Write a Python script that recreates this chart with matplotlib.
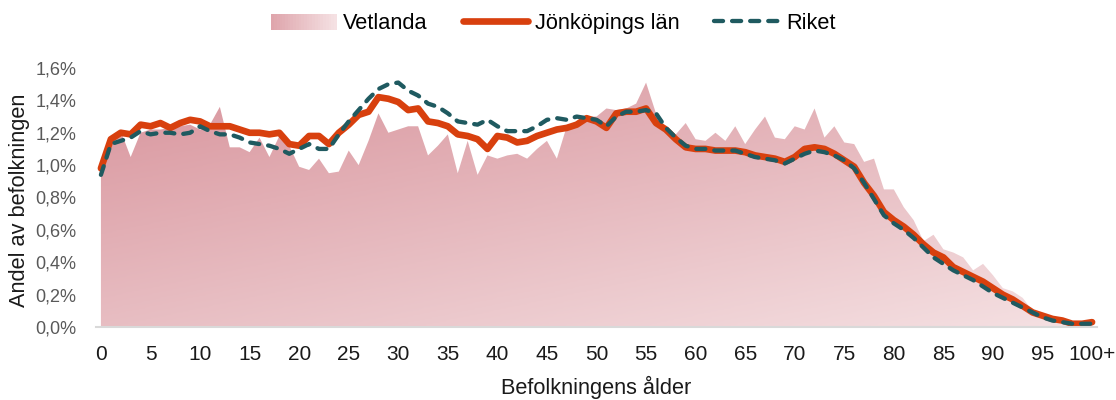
import numpy as np
import matplotlib
matplotlib.use("Agg")
import matplotlib.pyplot as plt
from matplotlib.colors import LinearSegmentedColormap
from matplotlib.legend_handler import HandlerBase
from matplotlib.patches import Rectangle, Patch
from matplotlib.lines import Line2D
from matplotlib.ticker import FuncFormatter

plt.rcParams["font.family"] = ["Liberation Sans", "DejaVu Sans"]

# andel av befolkningen (%) per ettårsklass, 0..100+
ages = np.arange(0, 101)
vetlanda = [
    0.97, 1.12, 1.21, 1.05, 1.20, 1.22, 1.22, 1.23, 1.24, 1.25,
    1.22, 1.25, 1.36, 1.11, 1.11, 1.08, 1.17, 1.05, 1.18, 1.12,
    0.99, 0.97, 1.04, 0.95, 0.96, 1.09, 1.00, 1.15, 1.32, 1.20,
    1.22, 1.24, 1.24, 1.06, 1.12, 1.19, 0.95, 1.15, 0.94, 1.06,
    1.04, 1.06, 1.07, 1.04, 1.10, 1.15, 1.04, 1.24, 1.27, 1.30,
    1.30, 1.35, 1.34, 1.35, 1.38, 1.51, 1.32, 1.21, 1.19, 1.26,
    1.16, 1.15, 1.20, 1.15, 1.24, 1.13, 1.22, 1.30, 1.17, 1.16,
    1.24, 1.22, 1.35, 1.17, 1.24, 1.14, 1.13, 1.02, 1.04, 0.85,
    0.85, 0.74, 0.66, 0.53, 0.57, 0.48, 0.46, 0.43, 0.35, 0.39,
    0.32, 0.24, 0.22, 0.18, 0.10, 0.07, 0.05, 0.03, 0.02, 0.02,
    0.02,
]
jonkoping = [
    0.98, 1.16, 1.20, 1.19, 1.25, 1.24, 1.26, 1.23, 1.26, 1.28,
    1.27, 1.24, 1.24, 1.24, 1.22, 1.20, 1.20, 1.19, 1.20, 1.13,
    1.12, 1.18, 1.18, 1.13, 1.20, 1.25, 1.31, 1.33, 1.42, 1.41,
    1.39, 1.34, 1.35, 1.27, 1.26, 1.24, 1.19, 1.18, 1.16, 1.10,
    1.18, 1.17, 1.14, 1.15, 1.18, 1.20, 1.22, 1.23, 1.25, 1.29,
    1.27, 1.23, 1.32, 1.33, 1.33, 1.35, 1.26, 1.22, 1.16, 1.11,
    1.10, 1.10, 1.09, 1.09, 1.09, 1.08, 1.06, 1.05, 1.04, 1.02,
    1.05, 1.10, 1.11, 1.10, 1.07, 1.03, 0.99, 0.89, 0.81, 0.71,
    0.66, 0.62, 0.57, 0.51, 0.46, 0.43, 0.37, 0.34, 0.31, 0.28,
    0.24, 0.20, 0.17, 0.13, 0.09, 0.07, 0.05, 0.04, 0.02, 0.02,
    0.03,
]
riket = [
    0.94, 1.13, 1.15, 1.17, 1.21, 1.19, 1.20, 1.20, 1.19, 1.20,
    1.24, 1.21, 1.19, 1.19, 1.17, 1.14, 1.13, 1.12, 1.10, 1.07,
    1.10, 1.13, 1.10, 1.10, 1.19, 1.27, 1.34, 1.41, 1.47, 1.50,
    1.51, 1.46, 1.43, 1.38, 1.36, 1.32, 1.27, 1.26, 1.25, 1.28,
    1.24, 1.21, 1.21, 1.21, 1.24, 1.28, 1.29, 1.28, 1.30, 1.29,
    1.28, 1.24, 1.30, 1.33, 1.33, 1.34, 1.32, 1.23, 1.17, 1.12,
    1.10, 1.10, 1.09, 1.09, 1.09, 1.07, 1.05, 1.04, 1.03, 1.01,
    1.04, 1.07, 1.09, 1.08, 1.06, 1.03, 0.98, 0.89, 0.79, 0.69,
    0.64, 0.60, 0.55, 0.49, 0.43, 0.39, 0.35, 0.32, 0.29, 0.25,
    0.21, 0.18, 0.15, 0.12, 0.09, 0.06, 0.04, 0.03, 0.02, 0.02,
    0.02,
]
xticks = list(range(0, 101, 5))
xticklabels = [str(t) for t in xticks[:-1]] + ["100+"]

ORANGE = "#d8400e"
TEAL = "#1f5a60"
PINK_DARK, PINK_LIGHT = "#d9969e", "#f5e1e3"
pink_cmap = LinearSegmentedColormap.from_list("pink", [PINK_DARK, PINK_LIGHT])


class GradientHandler(HandlerBase):
    def create_artists(self, legend, orig, xd, yd, w, h, fs, trans):
        n = 24
        out = []
        for i in range(n):
            r = Rectangle((xd + w * i / n, yd - h * 0.05), w / n + 0.3, h * 1.1,
                          facecolor=pink_cmap(0.2 + 0.8 * i / (n - 1)), edgecolor="none",
                          transform=trans)
            out.append(r)
        return out


fig = plt.figure(figsize=(11.16, 4.0), dpi=100)
ax = fig.add_axes([0.086, 0.1825, 0.897, 0.6475])
XMIN, XMAX, YMAX = -0.5, 100.5, 1.6

# gradient-filled area for Vetlanda
poly = ax.fill_between(ages, 0, vetlanda, facecolor="none", edgecolor="none")
gx, gy = np.meshgrid(np.linspace(0, 1, 300), np.linspace(1, 0, 200))
grad = 0.45 * gx + 0.55 * (1 - gy)
img = ax.imshow(grad, extent=(XMIN, XMAX, 0, YMAX), aspect="auto", cmap=pink_cmap,
                vmin=0.05, vmax=1.0, origin="upper", zorder=1)
img.set_clip_path(poly.get_paths()[0], transform=ax.transData)

ax.plot(ages, jonkoping, color=ORANGE, lw=4.8, solid_capstyle="round", solid_joinstyle="round", zorder=3)
ax.plot(ages, riket, color=TEAL, lw=3.1, linestyle=(0, (2.1, 2.1)), dash_capstyle="round",
        solid_joinstyle="round", zorder=4)

ax.set_xlim(XMIN, XMAX)
ax.set_ylim(0, YMAX)
ax.set_xticks(xticks)
ax.set_xticklabels(xticklabels)
ax.set_yticks(np.arange(0, 1.61, 0.2))
ax.yaxis.set_major_formatter(FuncFormatter(lambda v, p: f"{v:.1f}%".replace(".", ",")))
ax.tick_params(axis="x", length=0, pad=13, labelsize=15, labelcolor="#1a1a1a")
ax.tick_params(axis="y", length=0, pad=14, labelsize=13, labelcolor="#595959")
for s in ("top", "right", "left"):
    ax.spines[s].set_visible(False)
ax.spines["bottom"].set_color("#d9d9d9")
ax.spines["bottom"].set_linewidth(1.5)
ax.spines["bottom"].set_zorder(5)

ax.set_xlabel("Befolkningens ålder", fontsize=15.7, color="#1a1a1a")
ax.set_ylabel("Andel av befolkningen", fontsize=15.7, color="#1a1a1a")
ax.xaxis.set_label_coords(0.5, -0.19)
ax.yaxis.set_label_coords(-0.066, 0.49)

handles = [
    Patch(label="Vetlanda"),
    Line2D([], [], color=ORANGE, lw=4.8, solid_capstyle="round", label="Jönköpings län"),
    Line2D([], [], color=TEAL, lw=3.1, linestyle=(0, (2.1, 2.1)), dash_capstyle="round", label="Riket"),
]
fig.legend(handles=handles, loc="center", bbox_to_anchor=(0.496, 0.942), ncol=3, frameon=False,
           fontsize=15.7, handlelength=3.0, handleheight=0.65, handletextpad=0.3, columnspacing=1.6,
           handler_map={Patch: GradientHandler()})

fig.savefig("out.png", dpi=100)
